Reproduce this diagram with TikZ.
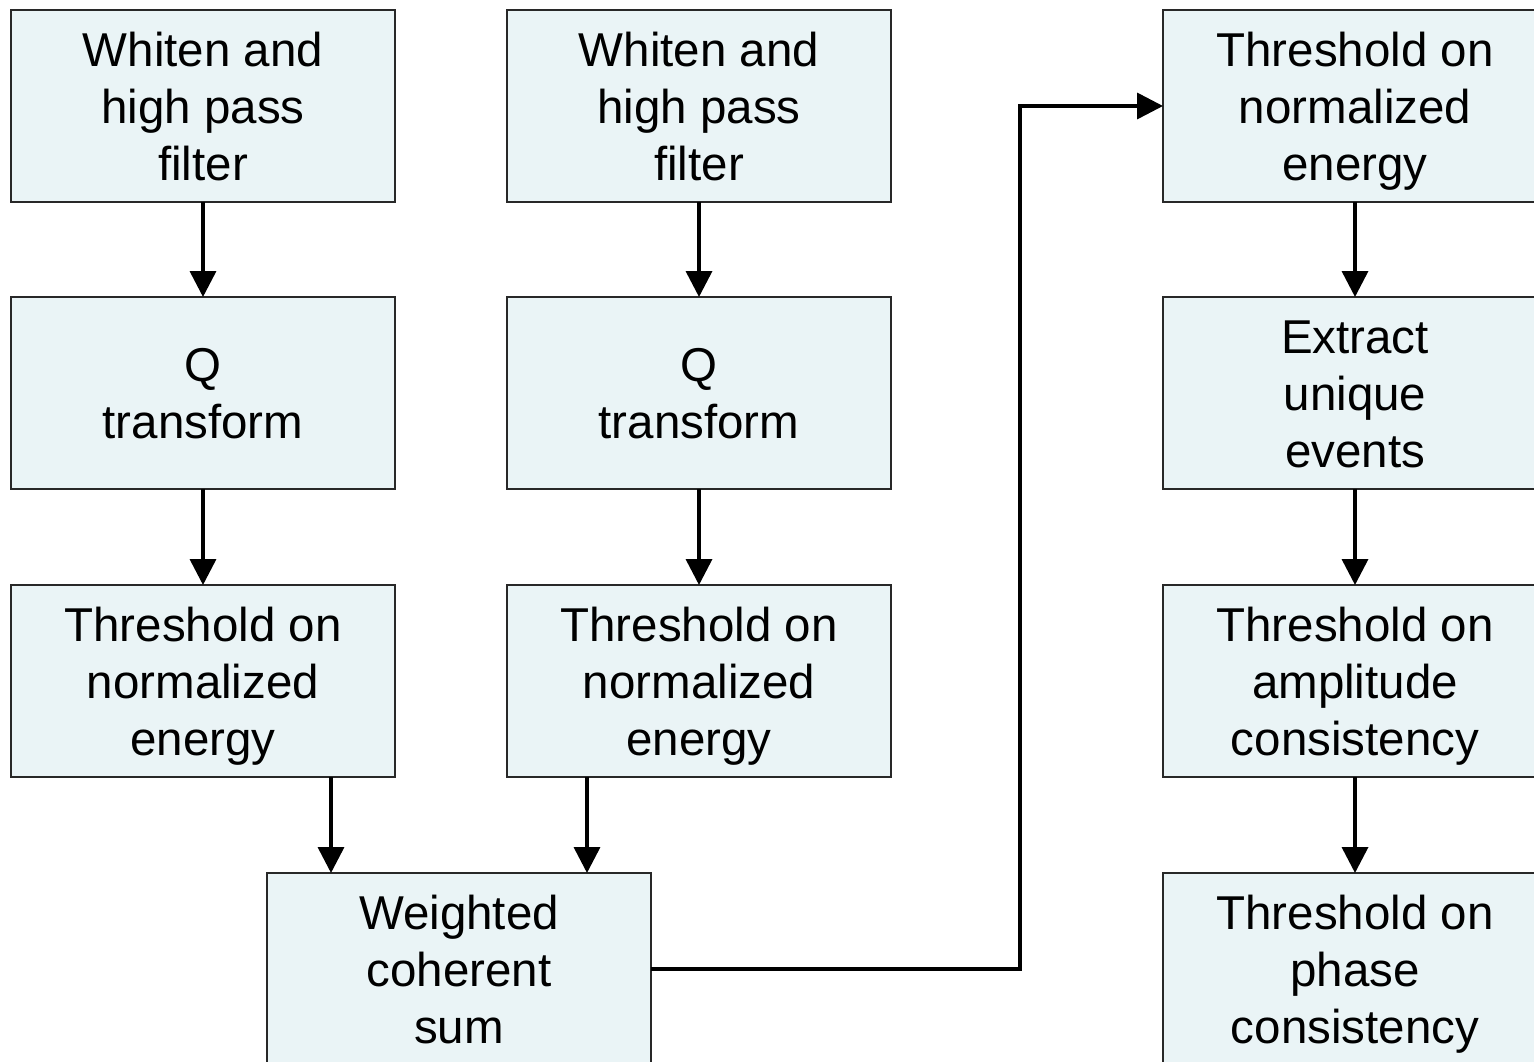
\documentclass[tikz,border=0pt]{standalone}
\usepackage{fontspec}
\setmainfont{Liberation Sans}
\usetikzlibrary{arrows.meta}
\definecolor{boxfill}{RGB}{234,244,246}
\definecolor{boxline}{RGB}{40,40,40}
\newcommand{\boxtext}[1]{\raisebox{-6pt}[\height][\depth]{\begin{tabular}{@{}c@{}}#1\end{tabular}}}
\tikzset{
  stepbox/.style={draw=boxline, fill=boxfill, line width=1.6pt, minimum width=384pt, minimum height=192pt,
    inner sep=0pt, outer sep=0pt, font=\fontsize{47.5}{57}\selectfont},
  arr/.style={line width=3.6pt, -{Triangle[length=26pt,width=26pt]}}
}
\begin{document}
\begin{tikzpicture}[x=1pt,y=-1pt]
\useasboundingbox (0,0) rectangle (1534,1062);
\clip (0,0) rectangle (1534,1062);
\fill[white] (0,0) rectangle (1534,1062);
% column 1
\node[stepbox] (w1) at (203,106) {\boxtext{Whiten and\\high pass\\filter}};
\node[stepbox] (q1) at (203,393) {\boxtext{Q\\transform}};
\node[stepbox] (t1) at (203,681) {\boxtext{Threshold on\\normalized\\energy}};
% column 2
\node[stepbox] (w2) at (699,106) {\boxtext{Whiten and\\high pass\\filter}};
\node[stepbox] (q2) at (699,393) {\boxtext{Q\\transform}};
\node[stepbox] (t2) at (699,681) {\boxtext{Threshold on\\normalized\\energy}};
% sum
\node[stepbox] (ws) at (459,969) {\boxtext{Weighted\\coherent\\sum}};
% column 3
\node[stepbox] (e1) at (1355,106) {\boxtext{Threshold on\\normalized\\energy}};
\node[stepbox] (e2) at (1355,393) {\boxtext{Extract\\unique\\events}};
\node[stepbox] (e3) at (1355,681) {\boxtext{Threshold on\\amplitude\\consistency}};
\node[stepbox] (e4) at (1355,969) {\boxtext{Threshold on\\phase\\consistency}};
\coordinate (bend) at (1020,500);
% connectors
\draw[arr] (w1) -- (q1);
\draw[arr] (q1) -- (t1);
\draw[arr] (w2) -- (q2);
\draw[arr] (q2) -- (t2);
\draw[arr] ([xshift=128pt]t1.south) -- ([xshift=128pt]t1.south |- ws.north);
\draw[arr] ([xshift=-112pt]t2.south) -- ([xshift=-112pt]t2.south |- ws.north);
\draw[arr] (ws.east) -| (bend) |- (e1.west);
\draw[arr] (e1) -- (e2);
\draw[arr] (e2) -- (e3);
\draw[arr] (e3) -- (e4);
\end{tikzpicture}
\end{document}
